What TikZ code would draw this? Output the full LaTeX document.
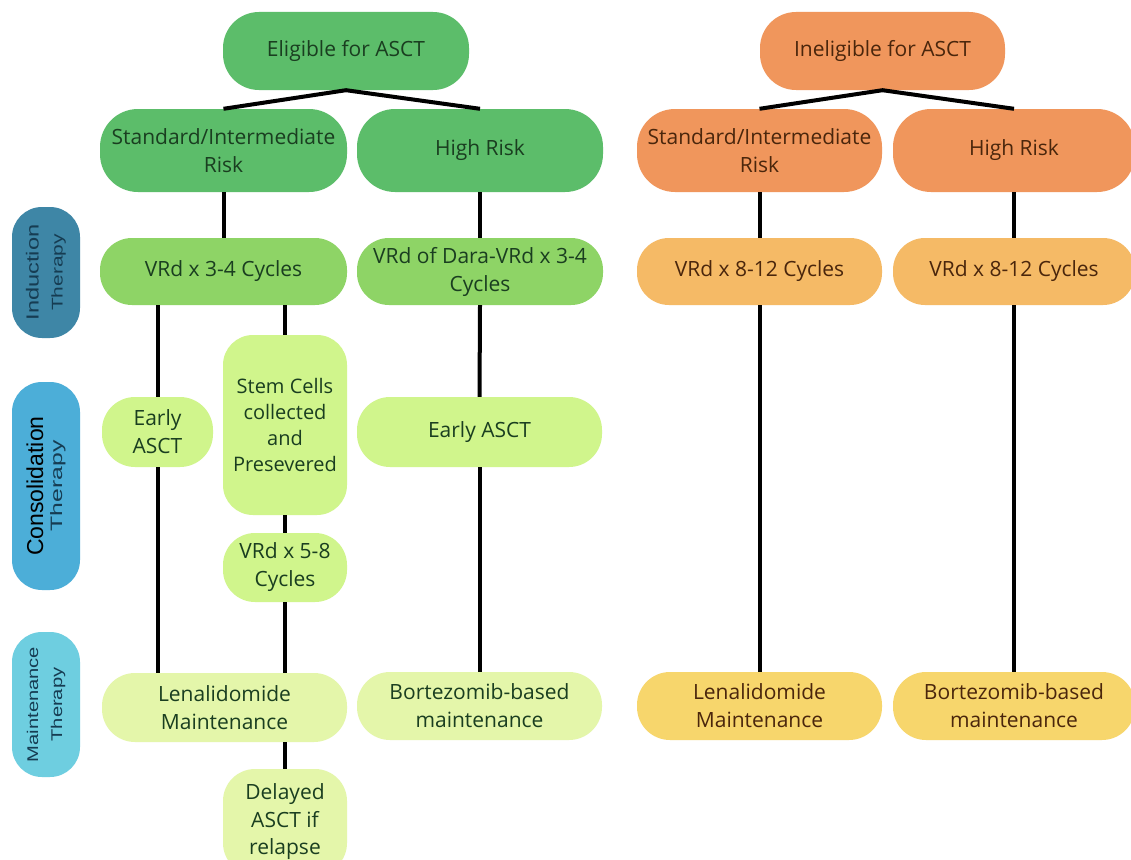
\documentclass[tikz,border=0pt]{standalone}
\usepackage{fontspec}
\setmainfont{Open Sans}
\newfontfamily\lblfont{Liberation Sans}
\definecolor{gtop}{RGB}{92,189,106}
\definecolor{gind}{RGB}{142,212,102}
\definecolor{gcons}{RGB}{208,245,140}
\definecolor{gmaint}{RGB}{228,246,170}
\definecolor{otop}{RGB}{240,150,92}
\definecolor{oind}{RGB}{245,186,102}
\definecolor{omaint}{RGB}{247,214,108}
\definecolor{gtext}{RGB}{26,62,32}
\definecolor{otext}{RGB}{74,38,12}
\definecolor{lind}{RGB}{62,134,166}
\definecolor{lcons}{RGB}{76,174,216}
\definecolor{lmaint}{RGB}{110,206,224}
\definecolor{ltext}{RGB}{22,60,82}
\tikzset{
  box/.style={inner sep=0pt, align=center, font=\fontsize{21}{28}\selectfont},
  gbox/.style={box, text=gtext},
  obox/.style={box, text=otext},
  lbl/.style={rotate=90, inner sep=0pt, align=center, rounded corners=30pt, minimum height=68pt, text=ltext, font=\lblfont\fontsize{15}{15}\selectfont},
  conn/.style={line width=4pt, black},
}
\newcommand{\stretchtxt}[3]{\scalebox{#1}[1]{\fontsize{#2}{#2}\selectfont #3}}
\begin{document}
\begin{tikzpicture}[x=1pt,y=-1pt]
\useasboundingbox (0,0) rectangle (1131,859);
\clip (0,0) rectangle (1131,859);
\fill[white] (0,0) rectangle (1131,859);
% eligible side
\node[gbox, fill=gtop, rounded corners=36pt, minimum width=246pt, minimum height=78pt] (elig) at (346,51) {Eligible for ASCT};
\node[gbox, fill=gtop, rounded corners=38pt, minimum width=247pt, minimum height=83pt] (estd) at (223.5,150.5) {Standard/Intermediate\\Risk};
\node[gbox, fill=gtop, rounded corners=38pt, minimum width=246pt, minimum height=83pt] (ehigh) at (480,150.5) {High Risk};
\node[gbox, fill=gind, rounded corners=32pt, minimum width=247pt, minimum height=67pt] (evrd) at (223.5,271.5) {VRd x 3-4 Cycles};
\node[gbox, fill=gind, rounded corners=32pt, minimum width=246pt, minimum height=67pt] (edara) at (480,271.5) {VRd of Dara-VRd x 3-4\\Cycles};
\node[gbox, fill=gcons, rounded corners=33pt, minimum width=111pt, minimum height=70pt] (eearly) at (157.5,432) {Early\\ASCT};
\node[gbox, fill=gcons, rounded corners=30pt, minimum width=124pt, minimum height=180pt, font=\fontsize{20}{25.7}\selectfont] (estem) at (285,425) {Stem Cells\\collected\\and\\Presevered};
\node[gbox, fill=gcons, rounded corners=32pt, minimum width=124pt, minimum height=69pt] (evrd58) at (285,567.5) {VRd x 5-8\\Cycles};
\node[gbox, fill=gcons, rounded corners=33pt, minimum width=245pt, minimum height=70pt] (eearly2) at (479.5,432) {Early ASCT};
\node[gbox, fill=gmaint, rounded corners=33pt, minimum width=245pt, minimum height=69pt] (elen) at (224.5,707.5) {Lenalidomide\\Maintenance};
\node[gbox, fill=gmaint, rounded corners=33pt, minimum width=245pt, minimum height=68pt] (ebort) at (479.5,706) {Bortezomib-based\\maintenance};
\node[gbox, fill=gmaint, rounded corners=32pt, minimum width=124pt, minimum height=106pt, font=\fontsize{21}{27.5}\selectfont] (edel) at (285,822) {Delayed\\ASCT if\\relapse};
% ineligible side
\node[obox, fill=otop, rounded corners=36pt, minimum width=245pt, minimum height=78pt] (inel) at (882.5,51) {Ineligible for ASCT};
\node[obox, fill=otop, rounded corners=38pt, minimum width=245pt, minimum height=83pt] (istd) at (759.5,150.5) {Standard/Intermediate\\Risk};
\node[obox, fill=otop, rounded corners=38pt, minimum width=242pt, minimum height=83pt] (ihigh) at (1014,150.5) {High Risk};
\node[obox, fill=oind, rounded corners=32pt, minimum width=245pt, minimum height=67pt] (ivrd1) at (759.5,271.5) {VRd x 8-12 Cycles};
\node[obox, fill=oind, rounded corners=32pt, minimum width=242pt, minimum height=67pt] (ivrd2) at (1014,271.5) {VRd x 8-12 Cycles};
\node[obox, fill=omaint, rounded corners=33pt, minimum width=245pt, minimum height=68pt] (ilen) at (759.5,706) {Lenalidomide\\Maintenance};
\node[obox, fill=omaint, rounded corners=33pt, minimum width=242pt, minimum height=68pt] (ibort) at (1014,706) {Bortezomib-based\\maintenance};
% phase labels
\node[lbl, fill=lind, minimum width=131pt] (lind) at (46,272.5) {\stretchtxt{1.35}{17.5}{Induction}\\[9pt]\stretchtxt{1.35}{15.5}{Therapy}};
\node[lbl, fill=lcons, minimum width=208pt] (lcons) at (46,486) {{\color{black}\fontsize{23}{23}\selectfont Consolidation}\\[4pt]\stretchtxt{1.5}{16.5}{Therapy}};
\node[lbl, fill=lmaint, minimum width=145pt] (lmaint) at (46,704.5) {\stretchtxt{1.3}{15.5}{Maintenance}\\[9pt]\stretchtxt{1.3}{15.5}{Therapy}};
% connectors
\draw[conn] (estd.north) -- (elig.south) -- (ehigh.north);
\draw[conn] (estd.south) -- (evrd.north);
\draw[conn] (ehigh.south) -- (edara.north);
\draw[conn] (evrd.south -| eearly.north) -- (eearly.north);
\draw[conn] (eearly.south) -- (elen.north -| eearly.south);
\draw[conn] (evrd.south -| estem.north) -- (estem.north);
\draw[conn] (estem.south) -- (evrd58.north);
\draw[conn] (evrd58.south) -- (elen.north -| evrd58.south);
\draw[conn] (elen.south -| edel.north) -- (edel.north);
\draw[conn] (edara.south) -- (eearly2.north);
\draw[conn] (eearly2.south) -- (ebort.north);
\draw[conn] (istd.north) -- (inel.south) -- (ihigh.north);
\draw[conn] (istd.south) -- (ivrd1.north);
\draw[conn] (ihigh.south) -- (ivrd2.north);
\draw[conn] (ivrd1.south) -- (ilen.north);
\draw[conn] (ivrd2.south) -- (ibort.north);
\end{tikzpicture}
\end{document}
